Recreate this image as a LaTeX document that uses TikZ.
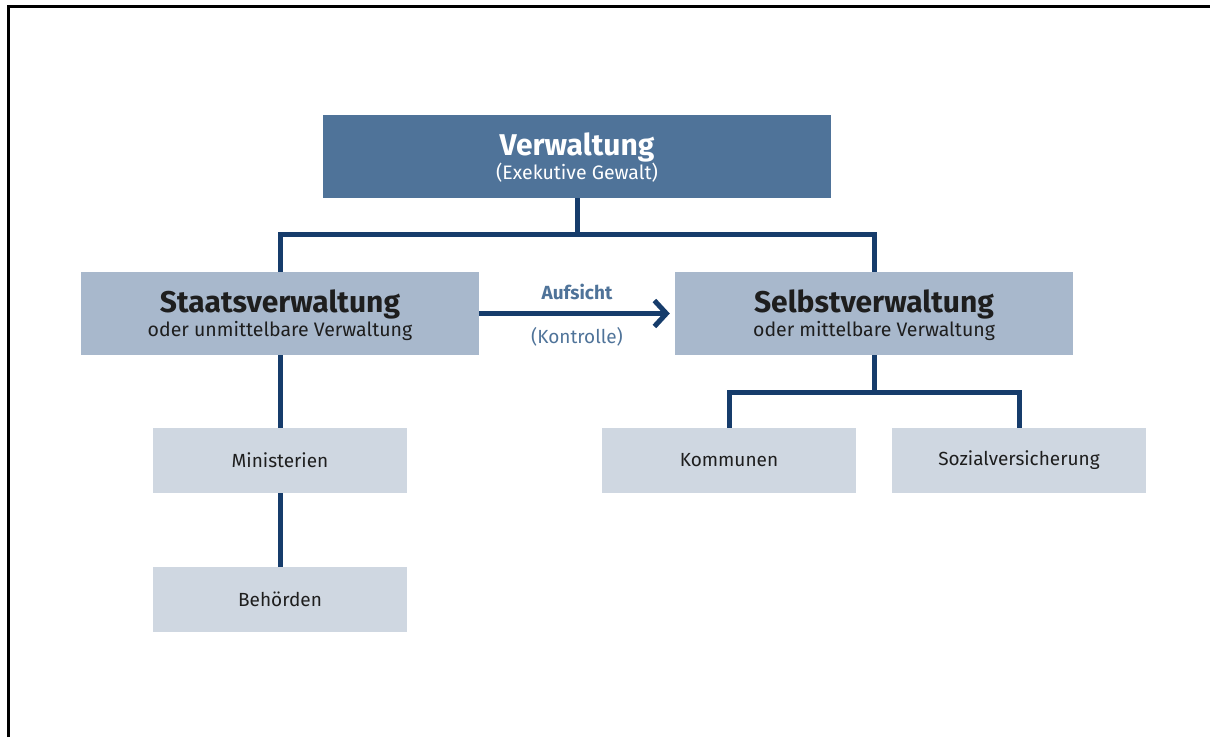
\documentclass[tikz,border=0pt]{standalone}
\usepackage{fontspec}
\setmainfont{Fira Sans}
\usepackage{xcolor}
\usetikzlibrary{arrows.meta, positioning}

\definecolor{topblue}{HTML}{4F7399}
\definecolor{midblue}{HTML}{A8B8CC}
\definecolor{lightblue}{HTML}{CFD7E1}
\definecolor{linkblue}{HTML}{163C6B}
\definecolor{txtgray}{HTML}{1E1E1E}

\begin{document}
\begin{tikzpicture}[x=1pt, y=-1pt,
		box/.style={rectangle, inner sep=0pt, align=center, text=txtgray},
		topbox/.style={box, fill=topblue, text=white, minimum width=508pt, minimum height=83pt,
			text depth=0pt, font=\fontsize{19.5}{24}\selectfont},
		midbox/.style={box, fill=midblue, minimum width=398pt, minimum height=83pt,
			text depth=0pt, font=\fontsize{19.5}{24}\selectfont},
		lowbox/.style={box, fill=lightblue, minimum width=254pt, minimum height=65pt,
			font=\fontsize{19}{20}\selectfont},
		lbl/.style={midway, text=topblue, font=\fontsize{19}{20}\selectfont},
		link/.style={draw=linkblue, line width=5pt}]
			\useasboundingbox (0,0) rectangle (1210,737);
			\draw [line width=3pt] (8.5,737) -- (8.5,6.5) -- (1210,6.5);
			
			%% boxes
			\node [topbox] (verw) at (577,156.5) {{\fontsize{30}{24}\selectfont\bfseries Verwaltung}\\(Exekutive Gewalt)};
			\node [midbox] (staat) at (280,313.5) {{\fontsize{30}{24}\selectfont\bfseries Staatsverwaltung}\\oder unmittelbare Verwaltung};
			\node [midbox] (selbst) at (874,313.5) {{\fontsize{30}{24}\selectfont\bfseries Selbstverwaltung}\\oder mittelbare Verwaltung};
			\node [lowbox] (minist) at (280,460.5) {Ministerien};
			\node [lowbox] (behoerd) at (280,599.5) {Behörden};
			\node [lowbox] (kommun) at (729,460.5) {Kommunen};
			\node [lowbox] (sozial) at (1019,460.5) {Sozialversicherung};
			
			%% connectors
			\coordinate (split1) at (577,234);
			\coordinate (split2) at (874,392);
			\draw [link] (verw.south) -- (split1);
			\draw [link] (split1) -| (staat.north);
			\draw [link] (split1) -| (selbst.north);
			\draw [link] (staat.south) -- (minist.north);
			\draw [link] (minist.south) -- (behoerd.north);
			\draw [link] (selbst.south) -- (split2);
			\draw [link] (split2) -| (kommun.north);
			\draw [link] (split2) -| (sozial.north);
			
			%% supervision
			\draw [link, -{Straight Barb[length=12pt, width=26pt]}, shorten >=5pt] (staat.east) -- (selbst.west)
			node [lbl, above=8pt, font=\fontsize{19}{20}\selectfont\bfseries] (aufs) {Aufsicht}
			node [lbl, below=8pt] (kontr) {(Kontrolle)};
		\end{tikzpicture}
\end{document}
